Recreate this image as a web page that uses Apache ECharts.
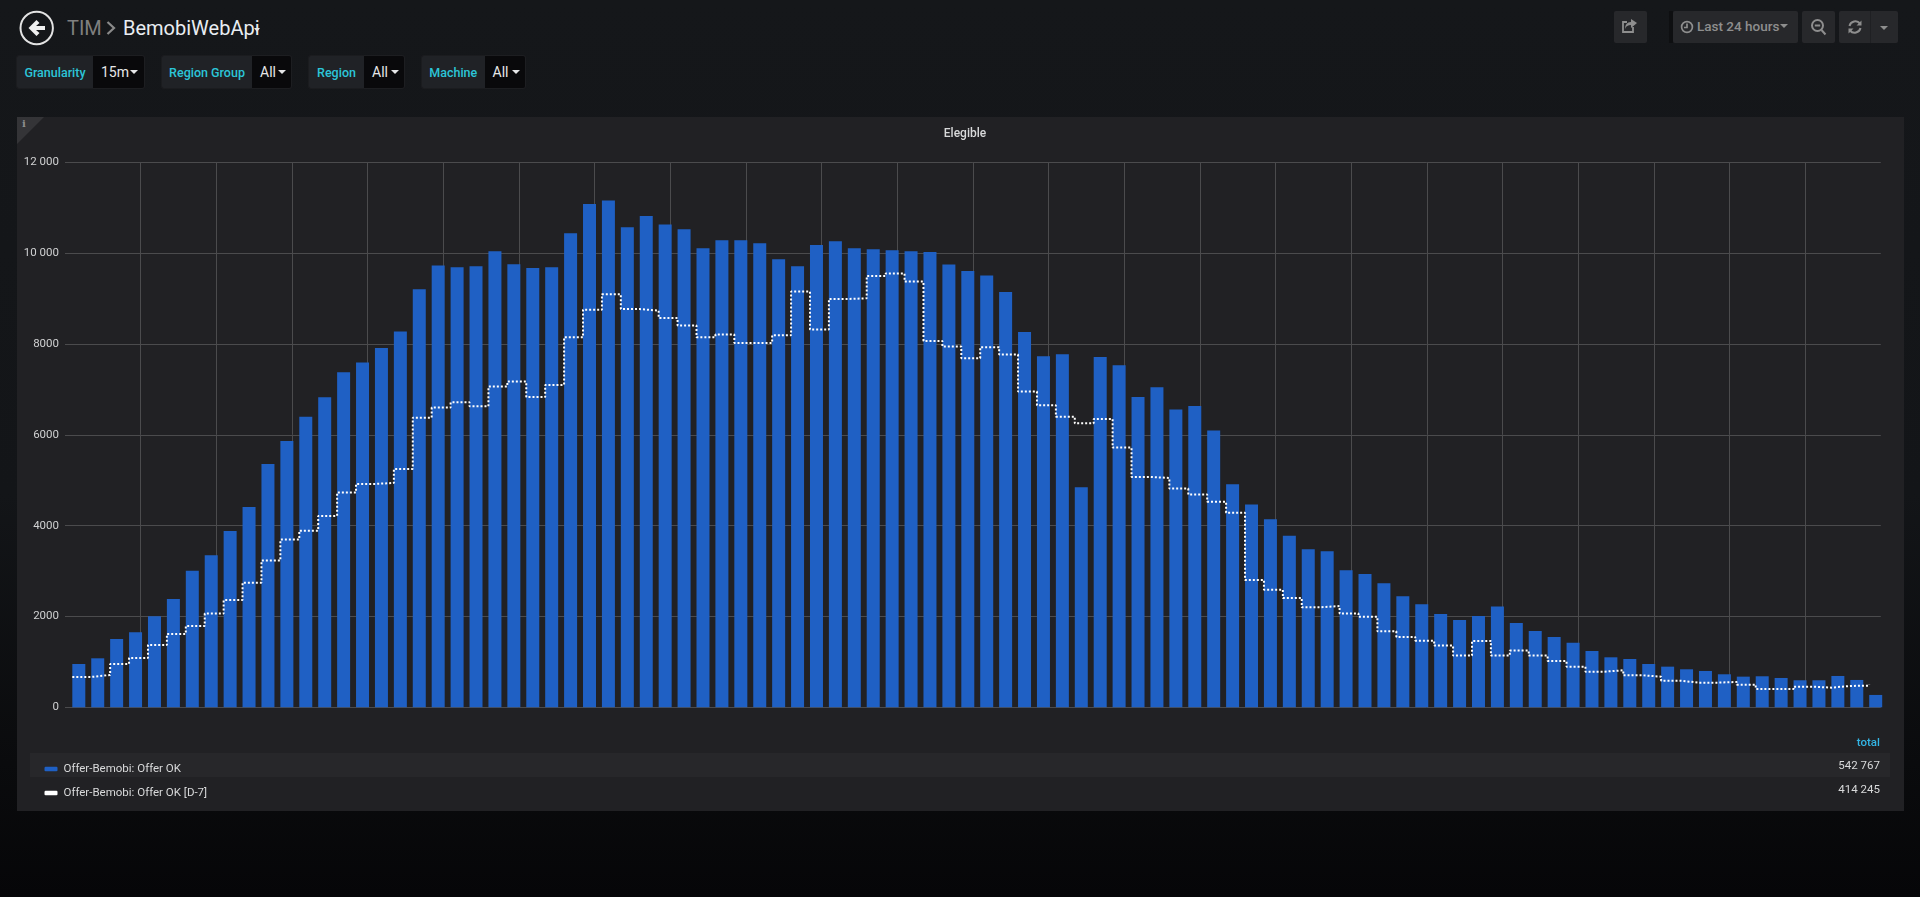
<!DOCTYPE html>
<html>
<head>
<meta charset="utf-8">
<title>BemobiWebApi</title>
<script src="https://cdn.jsdelivr.net/npm/echarts@6/dist/echarts.min.js"></script>
<style>
html,body{margin:0;padding:0;width:1920px;height:897px;overflow:hidden;font-family:Roboto,sans-serif;
 background:linear-gradient(180deg,#15171a 0%,#131518 55%,#0a0b0d 85%,#060608 100%);}
.abs{position:absolute;box-sizing:border-box;white-space:nowrap}
#panel{left:17px;top:117px;width:887px;height:694px;width:1887px;background:#212124;}
#corner{left:17px;top:117px;width:0;height:0;border-top:27px solid #343437;border-right:27px solid transparent;}
#chart{position:absolute;left:0;top:0;width:1920px;height:897px;}
.seg{height:34px;top:55px;line-height:33px;font-size:12.5px;}
.lab{background:#202226;color:#2cc5d8;font-weight:500;border-radius:3px 0 0 3px;text-align:center;border:1px solid #1b1c1f;border-right:0}
.val{background:#09090b;color:#e6e7e8;font-size:14px;border-radius:0 3px 3px 0;border:1px solid #1d1e21;border-left:0}
.val span{position:absolute;top:0}
.caret{position:absolute;width:0;height:0;border-left:4px solid transparent;border-right:4px solid transparent;border-top:4.5px solid #e6e7e8;}
.btn{top:11px;height:32px;background:#27282b;border-radius:2px;}
#row1{left:30px;top:753px;width:1860px;height:24px;background:#27272a;}
.tot{right:40px;font-size:11.5px;color:#d8d9da;line-height:14px;text-align:right}
</style>
</head>
<body>
<div class="abs" id="panel"></div>
<div class="abs" id="row1"></div>
<div class="abs" id="corner"></div>
<div class="abs" style="left:22px;top:118px;font:bold 10px 'DejaVu Serif',serif;color:#8e8e8e;">i</div>

<svg class="abs" style="left:18px;top:10px" width="38" height="36" viewBox="0 0 38 36">
 <circle cx="18.7" cy="18" r="16.2" fill="none" stroke="#e3e3e3" stroke-width="2"/>
 <path d="M10.5 18 L18.5 10 L21.5 13 L18 16 H27 V20 H18 L21.5 23 L18.5 26 Z" fill="#f0f0f0"/>
</svg>
<div class="abs" style="left:67px;top:15px;font-size:20px;line-height:26px;color:#7f7f7f;">TIM</div>
<svg class="abs" style="left:105px;top:20px" width="12" height="16"><path d="M2.5 2 L9 8 L2.5 14" fill="none" stroke="#8a8a8a" stroke-width="2.2"/></svg>
<div class="abs" style="left:123px;top:15px;font-size:20px;line-height:26px;color:#e9edf2;">BemobiWebApi</div>
<div class="caret" style="left:254px;top:28px;border-left-width:3.5px;border-right-width:3.5px;border-top-width:4px;"></div>

<div class="abs seg lab" style="left:16px;width:77px">Granularity</div>
<div class="abs seg val" style="left:93px;width:52px"><span style="left:8px">15m</span><i class="caret" style="left:37px;top:14px"></i></div>
<div class="abs seg lab" style="left:161px;width:91px">Region Group</div>
<div class="abs seg val" style="left:252px;width:40px"><span style="left:8px">All</span><i class="caret" style="left:26px;top:14px"></i></div>
<div class="abs seg lab" style="left:308px;width:56px">Region</div>
<div class="abs seg val" style="left:364px;width:41px"><span style="left:8px">All</span><i class="caret" style="left:27px;top:14px"></i></div>
<div class="abs seg lab" style="left:421px;width:63.5px">Machine</div>
<div class="abs seg val" style="left:484.5px;width:41.5px"><span style="left:8px">All</span><i class="caret" style="left:27px;top:14px"></i></div>

<div class="abs btn" style="left:1614px;width:33px">
 <svg width="33" height="32" fill="none" stroke="#8e8e8e" stroke-width="1.8"><path d="M19 16v5h-10v-10h4"/><path fill="#8e8e8e" stroke="none" d="M17 8v3c-4 0-6 3-6 7 1-3 3-4 6-4v3l6-5z"/></svg>
</div>
<div class="abs" style="left:1669px;top:11px;width:4px;height:32px;background:#0e0f11"></div>
<div class="abs btn" style="left:1673px;width:125px">
 <svg class="abs" style="left:7px;top:9px" width="14" height="14" fill="none" stroke="#8e8e8e" stroke-width="1.7"><circle cx="7" cy="7" r="5.4"/><path d="M7 3.5V7.5H4"/></svg>
 <span class="abs" style="left:24px;top:0;line-height:31px;font-size:13.5px;font-weight:500;color:#8e8e8e">Last 24 hours</span>
 <i class="caret" style="left:107px;top:13px;border-top-color:#8e8e8e;border-left-width:4.5px;border-right-width:4.5px"></i>
</div>
<div class="abs btn" style="left:1802px;width:33px">
 <svg width="33" height="32" fill="none" stroke="#8e8e8e" stroke-width="2"><circle cx="15.5" cy="14.5" r="5.5"/><path d="M12.8 14.5h5.4M19.5 19l4 4.5"/></svg>
</div>
<div class="abs btn" style="left:1839px;width:59px">
 <svg class="abs" style="left:8px;top:8px" width="16" height="16" fill="none" stroke="#8e8e8e" stroke-width="2"><path d="M2.5 7a6 6 0 0 1 10.5-2.5M13.5 9a6 6 0 0 1-10.5 2.5"/><path fill="#8e8e8e" stroke="none" d="M14.5 1.5v5h-5zM1.5 14.5v-5h5z"/></svg>
 <div class="abs" style="left:31px;top:0;width:1px;height:32px;background:#1f2023"></div>
 <i class="caret" style="left:41px;top:15px;border-top-color:#8e8e8e;"></i>
</div>

<div id="chart"></div>

<div class="abs tot" id="totalHead" style="top:735px;color:#33b5e5;font-weight:500;">total</div>
<div class="abs tot" id="tot0" style="top:758px"></div>
<div class="abs tot" id="tot1" style="top:782px"></div>

<script>
const timeSlots = [
 '05:30','05:45','06:00','06:15','06:30','06:45','07:00','07:15','07:30','07:45','08:00','08:15',
 '08:30','08:45','09:00','09:15','09:30','09:45','10:00','10:15','10:30','10:45','11:00','11:15',
 '11:30','11:45','12:00','12:15','12:30','12:45','13:00','13:15','13:30','13:45','14:00','14:15',
 '14:30','14:45','15:00','15:15','15:30','15:45','16:00','16:15','16:30','16:45','17:00','17:15',
 '17:30','17:45','18:00','18:15','18:30','18:45','19:00','19:15','19:30','19:45','20:00','20:15',
 '20:30','20:45','21:00','21:15','21:30','21:45','22:00','22:15','22:30','22:45','23:00','23:15',
 '23:30','23:45','00:00','00:15','00:30','00:45','01:00','01:15','01:30','01:45','02:00','02:15',
 '02:30','02:45','03:00','03:15','03:30','03:45','04:00','04:15','04:30','04:45','05:00','05:15'];
const offerOk = [
 954,1079,1505,1651,2004,2385,3009,3347,3883,4411,5358,5865,
 6400,6826,7377,7590,7913,8272,9204,9725,9689,9711,10041,9755,
 9674,9689,10437,11083,11157,10570,10819,10628,10526,10107,10283,10283,
 10217,9865,9711,10181,10261,10107,10085,10063,10041,10026,9748,9608,
 9505,9146,8265,7729,7773,4844,7714,7531,6834,7046,6555,6635,
 6092,4910,4463,4140,3780,3479,3435,3017,2936,2730,2444,2268,
 2055,1923,2011,2217,1857,1681,1549,1424,1240,1101,1064,954,
 895,837,800,727,675,683,646,595,595,690,602,272];
const offerOkD7 = [
 668,712,954,1086,1373,1615,1791,2063,2363,2745,3230,3692,
 3890,4213,4727,4918,4940,5248,6378,6599,6716,6628,7061,7171,
 6833,7098,8147,8756,9094,8768,8735,8570,8408,8150,8206,8023,
 8023,8191,9153,8316,8990,9006,9498,9550,9373,8067,7942,7685,
 7927,7766,6951,6650,6400,6254,6349,5718,5072,5050,4815,4683,
 4525,4286,2804,2591,2408,2202,2228,2063,1996,1674,1549,1468,
 1358,1138,1461,1138,1248,1138,1020,895,785,815,705,675,
 587,543,543,558,499,404,404,455,433,470,477,500];
const seriesNames = ['Offer-Bemobi: Offer OK','Offer-Bemobi: Offer OK [D-7]'];
const legendTotals = ['542 767','414 245'];
const panelTitle = 'Elegible';

document.getElementById('tot0').textContent = legendTotals[0];
document.getElementById('tot1').textContent = legendTotals[1];

// minutes on a continuous scale starting the day before; slots after midnight roll over
const toMinutes = (s, i) => {
  const [h, m] = s.split(':').map(Number);
  return h * 60 + m + (i >= 74 ? 1440 : 0);
};
const xs = timeSlots.map(toMinutes);
const pad = n => String(n).padStart(2, '0');

const chart = echarts.init(document.getElementById('chart'), null, {renderer: 'canvas'});
chart.setOption({
  animation: false,
  backgroundColor: 'transparent',
  textStyle: {fontFamily: 'Roboto'},
  title: {
    text: panelTitle, left: 960, top: 123, textAlign: 'center',
    textStyle: {color: '#d8d9da', fontSize: 12, fontWeight: 500, fontFamily: 'Roboto'}
  },
  grid: {left: 65, right: 39.2, top: 162.3, bottom: 189.7, containLabel: false},
  legend: {
    orient: 'vertical', left: 39.5, top: 755, itemGap: 6, itemWidth: 13, itemHeight: 4.5,
    icon: 'roundRect', selectedMode: false,
    data: seriesNames,
    textStyle: {color: '#d8d9da', fontSize: 11.5, fontFamily: 'Roboto', padding: [0, 0, 0, 1], height: 18, lineHeight: 18}
  },
  xAxis: {
    type: 'value', min: 324.2, max: 1764.2, interval: 60,
    axisLine: {show: false}, axisTick: {show: false},
    axisLabel: {
      color: '#d0d1d2', fontSize: 11.5, margin: 8, fontFamily: 'Roboto', showMinLabel: false, showMaxLabel: false,
      formatter: v => v % 60 === 0 ? pad(Math.floor(v / 60) % 24) + ':00' : ''
    },
    splitLine: {show: true, showMinLine: false, showMaxLine: false, lineStyle: {color: '#4b4b4d', width: 1}}
  },
  yAxis: {
    type: 'value', min: 0, max: 12000, interval: 2000,
    axisLine: {show: false}, axisTick: {show: false},
    axisLabel: {
      color: '#d0d1d2', fontSize: 11.5, margin: 6, fontFamily: 'Roboto',
      formatter: v => v >= 10000 ? Math.floor(v / 1000) + ' ' + pad(0) + '0' : String(v)
    },
    splitLine: {show: true, lineStyle: {color: '#4b4b4d', width: 1}}
  },
  series: [
    // empty slot left of the bars so each bar starts at its time, not centred on it
    {type: 'bar', name: 'slot', data: [], barWidth: 13, barGap: 0, silent: true},
    {
      type: 'bar', name: seriesNames[0], barWidth: 13, barGap: 0,
      data: xs.map((x, i) => [x, offerOk[i]]),
      itemStyle: {color: '#1f60c4'}
    },
    {
      type: 'line', name: seriesNames[1], step: 'end', symbol: 'none', z: 5,
      data: xs.map((x, i) => [x, offerOkD7[i]]),
      lineStyle: {color: '#ffffff', width: 2, type: [2, 2]},
      itemStyle: {color: '#ffffff'}
    }
  ]
});
</script>
</body>
</html>
